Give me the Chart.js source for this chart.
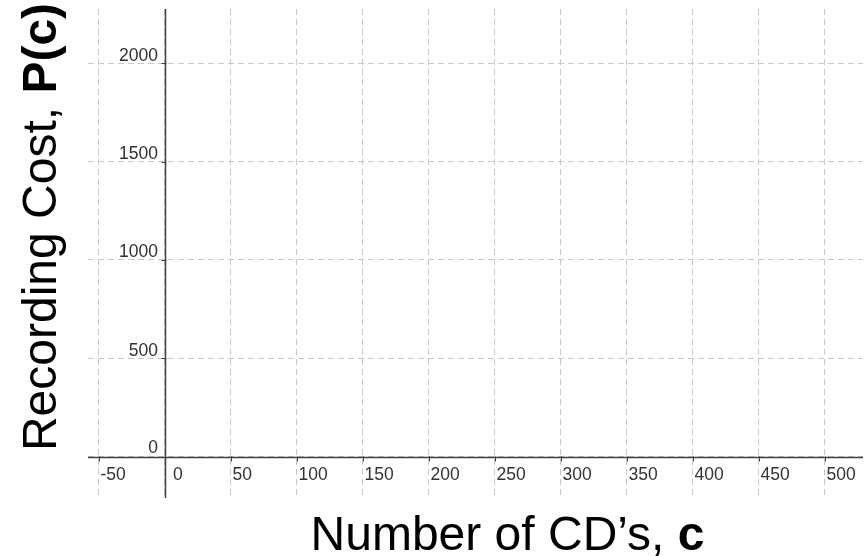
<!DOCTYPE html>
<html>
<head>
<meta charset="utf-8">
<script src="https://cdn.jsdelivr.net/npm/chart.js@4/dist/chart.umd.min.js"></script>
<style>
  html, body { margin: 0; padding: 0; background: #fff; }
  #wrap { width: 865px; height: 556px; position: relative; }
</style>
</head>
<body>
<div id="wrap"><canvas id="c" width="865" height="556"></canvas></div>
<script>
// Axis ranges (window of the empty coordinate grid)
const xRange = [-58.3, 528.8];
const yRange = [-210, 2276];
// Tick labels
const xTicks = [-50, 0, 50, 100, 150, 200, 250, 300, 350, 400, 450, 500];
const yTicks = [0, 500, 1000, 1500, 2000];
// Series (the reference grid has no plotted data)
const seriesX = [];
const seriesY = [];
// Titles
const xTitle = ["Number of CD\u2019s, ", "c"];
const yTitle = ["Recording Cost, ", "P(c)"];

const FONT = '"Liberation Sans", Arial, Helvetica, sans-serif';

const overlay = {
  id: 'overlay',
  afterDraw(chart) {
    const ctx = chart.ctx;
    const xs = chart.scales.x, ys = chart.scales.y;
    const a = chart.chartArea;
    const x0 = Math.round(xs.getPixelForValue(0)) + 0.5;
    const y0 = Math.round(ys.getPixelForValue(0)) + 0.5;
    ctx.save();
    // axes
    ctx.strokeStyle = '#404040';
    ctx.lineWidth = 1.5;
    ctx.beginPath();
    ctx.moveTo(x0, a.top); ctx.lineTo(x0, a.bottom);
    ctx.moveTo(a.left, y0); ctx.lineTo(a.right, y0);
    ctx.stroke();
    // tick marks
    ctx.lineWidth = 1;
    ctx.beginPath();
    xTicks.forEach(v => {
      if (v === 0) return;
      const px = Math.round(xs.getPixelForValue(v)) + 0.5;
      ctx.moveTo(px, y0 - 1); ctx.lineTo(px, y0 + 4);
    });
    yTicks.forEach(v => {
      if (v === 0) return;
      const py = Math.round(ys.getPixelForValue(v)) + 0.5;
      ctx.moveTo(x0 - 4, py); ctx.lineTo(x0 + 1, py);
    });
    ctx.stroke();
    // tick labels
    ctx.fillStyle = '#333333';
    ctx.font = '17.5px ' + FONT;
    ctx.textBaseline = 'alphabetic';
    ctx.textAlign = 'left';
    xTicks.forEach(v => {
      const px = xs.getPixelForValue(v);
      const off = v === 0 ? 8 : 1.5;
      ctx.fillText(String(v), px + off, y0 + 22.5);
    });
    ctx.textAlign = 'right';
    yTicks.forEach(v => {
      const py = ys.getPixelForValue(v);
      const off = v === 0 ? 3.5 : 2.5;
      ctx.fillText(String(v), x0 - 7.5, py - off);
    });
    // x title
    ctx.fillStyle = '#000';
    const fs = 48;
    ctx.textAlign = 'left';
    ctx.font = fs + 'px ' + FONT;
    const w1 = ctx.measureText(xTitle[0]).width;
    ctx.font = 'bold ' + fs + 'px ' + FONT;
    const w2 = ctx.measureText(xTitle[1]).width;
    let sx = 507.5 - (w1 + w2) / 2;
    ctx.font = fs + 'px ' + FONT;
    ctx.fillText(xTitle[0], sx, 550);
    ctx.font = 'bold ' + fs + 'px ' + FONT;
    ctx.fillText(xTitle[1], sx + w1, 550);
    // y title
    ctx.save();
    ctx.translate(56, 227);
    ctx.rotate(-Math.PI / 2);
    ctx.font = fs + 'px ' + FONT;
    const v1 = ctx.measureText(yTitle[0]).width;
    ctx.font = 'bold ' + fs + 'px ' + FONT;
    const v2 = ctx.measureText(yTitle[1]).width;
    const sy = -(v1 + v2) / 2;
    ctx.font = fs + 'px ' + FONT;
    ctx.fillText(yTitle[0], sy, 0);
    ctx.font = 'bold ' + fs + 'px ' + FONT;
    ctx.fillText(yTitle[1], sy + v1, 0);
    ctx.restore();
    ctx.restore();
  }
};

const gridOpts = {
  color: '#c8c8c8',
  lineWidth: 1,
  drawTicks: false
};

new Chart(document.getElementById('c'), {
  type: 'scatter',
  data: {
    datasets: [{
      data: seriesX.map((x, i) => ({ x: x, y: seriesY[i] })),
      pointRadius: 0,
      showLine: true,
      borderColor: '#000'
    }]
  },
  options: {
    responsive: false,
    animation: false,
    devicePixelRatio: 1,
    layout: { padding: { left: 88, right: 2, top: 9, bottom: 58 } },
    plugins: { legend: { display: false }, tooltip: { enabled: false } },
    scales: {
      x: {
        type: 'linear',
        min: xRange[0], max: xRange[1],
        afterBuildTicks: s => { s.ticks = xTicks.map(v => ({ value: v })); },
        ticks: { display: false },
        grid: Object.assign({}, gridOpts),
        border: { display: false, dash: [6, 4] },
        title: { display: false }
      },
      y: {
        type: 'linear',
        min: yRange[0], max: yRange[1],
        afterBuildTicks: s => { s.ticks = yTicks.map(v => ({ value: v })); },
        ticks: { display: false },
        grid: Object.assign({}, gridOpts),
        border: { display: false, dash: [6, 4] },
        title: { display: false }
      }
    }
  },
  plugins: [overlay]
});
</script>
</body>
</html>
